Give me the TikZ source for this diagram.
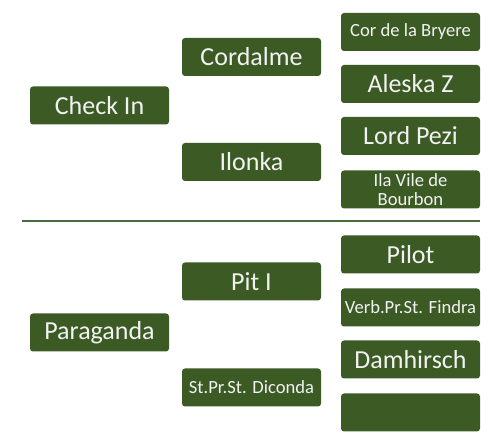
\documentclass[tikz,border=0pt]{standalone}
\usepackage{fontspec}
\setmainfont{Carlito}
\usetikzlibrary{positioning}
\definecolor{boxgreen}{HTML}{3B5A24}
\definecolor{linegreen}{HTML}{4B6B3C}

\begin{document}
\begin{tikzpicture}[x=1pt, y=-1pt,
  every node/.style={fill=boxgreen, text=white!95!black, rounded corners=3pt, inner sep=0pt,
    minimum width=139pt, minimum height=38pt, align=center, font=\fontsize{26}{28}\selectfont},
  small/.style={font=\fontsize{18.6}{19.5}\selectfont}
]
  \useasboundingbox (0,0) rectangle (493,443);

  % upper group
  \node (checkin)  at (99.5,105.5)  {Check In};
  \node (cordalme) at (251.5,57)    {Cordalme};
  \node (ilonka)   at (251.5,162)   {Ilonka};
  \node[small] (bryere)  at (410.5,32)    {Cor de la Bryere};
  \node (aleska)   at (410.5,84)    {Aleska Z};
  \node (pezi)     at (410.5,136)   {Lord Pezi};
  \node[small] (bourbon) at (410.5,189.5) {Ila Vile de\\Bourbon};

  % separator
  \coordinate (sepL) at (22,221);
  \coordinate (sepR) at (480,221);
  \draw[linegreen, line width=1.6pt] (sepL) -- (sepR);

  % lower group
  \node (paraganda) at (99.5,332.5)  {Paraganda};
  \node (pit)       at (251.5,281.5) {Pit I};
  \node[small] (diconda) at (251.5,387.5) {St.Pr.St. Diconda};
  \node (pilot)     at (410.5,254.5) {Pilot};
  \node[small] (findra)  at (410.5,307.5) {Verb.Pr.St. Findra};
  \node (damhirsch) at (410.5,359.5) {Damhirsch};
  \node (empty)     at (410.5,412.5) {};
\end{tikzpicture}
\end{document}
